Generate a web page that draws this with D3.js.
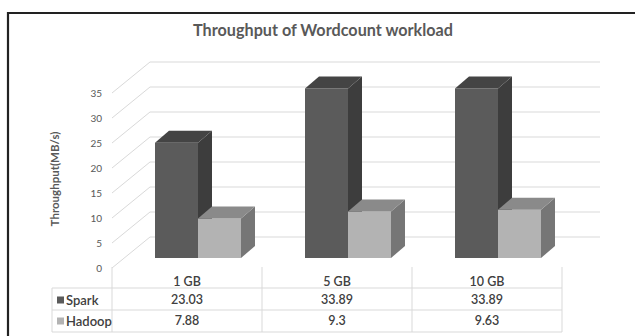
<!DOCTYPE html>
<html><head><meta charset="utf-8">
<script src="https://cdn.jsdelivr.net/npm/d3@7"></script>
<style>body{margin:0;background:#fff}svg{display:block}text{font-family:Lato,"Open Sans",sans-serif}</style>
</head><body><div id="chart"></div>
<script>
const categories = ["1 GB", "5 GB", "10 GB"];
const seriesNames = ["Spark", "Hadoop"];
const spark = [23.03, 33.89, 33.89];
const hadoop = [7.88, 9.3, 9.63];
const yTicks = [0, 5, 10, 15, 20, 25, 30, 35];
const sparkLabels = ["23.03", "33.89", "33.89"];
const hadoopLabels = ["7.88", "9.3", "9.63"];

const W = 635, H = 336;
const svg = d3.select("#chart").append("svg").attr("width", W).attr("height", H);
svg.append("rect").attr("width", W).attr("height", H).attr("fill", "#fff");

// frame
svg.append("path").attr("d", `M8,${H+5} L8,13 L${W+5},13`).attr("fill", "none")
  .attr("stroke", "#222").attr("stroke-width", 2.2);

// title
svg.append("text").attr("x", 323).attr("y", 36).attr("text-anchor", "middle")
  .attr("font-size", 16.2).attr("font-weight", "bold").attr("fill", "#595959")
  .text("Throughput of Wordcount workload");

// geometry
const frontX = 112, backX = 150, rightX = 600;
const yFront = d3.scaleLinear().domain([0, 35]).range([268, 93]);
const yBack = d3.scaleLinear().domain([0, 35]).range([237, 62]);
const yBar = d3.scaleLinear().domain([0, 35]).range([258, 83]);
const xCat = d3.scaleBand().domain(categories).range([112, 562]);
const xSub = d3.scaleBand().domain(seriesNames).range([0, 86]);
const barShift = 43, depthX = 14, depthY = -12;

// gridlines
const g = svg.append("g").attr("stroke", "#d9d9d9").attr("fill", "none").attr("stroke-width", 1);
yTicks.forEach(t => {
  g.append("path").attr("d", `M${frontX},${yFront(t)} L${backX},${yBack(t)} L${rightX},${yBack(t)}`);
});

// tick labels
svg.append("g").selectAll("text").data(yTicks).join("text")
  .attr("x", 102).attr("y", d => yFront(d)).attr("dy", "0.35em").attr("text-anchor", "end")
  .attr("font-size", 10).attr("fill", "#595959").text(d => d);

// axis title
svg.append("text").attr("transform", "translate(59,179) rotate(-90)").attr("text-anchor", "middle")
  .attr("font-size", 11.5).attr("font-weight", "bold").attr("fill", "#595959")
  .text("Throughput(MB/s)");

// bars
const colors = {
  Spark: {front: "#5b5b5b", side: "#3d3d3d", top: "#444444"},
  Hadoop: {front: "#b3b3b3", side: "#767676", top: "#8a8a8a"}
};
const data = [];
categories.forEach((c, i) => {
  data.push({c, s: "Spark", v: spark[i]});
  data.push({c, s: "Hadoop", v: hadoop[i]});
});
const bars = svg.append("g");
data.forEach(d => {
  const x0 = xCat(d.c) + barShift + xSub(d.s);
  const x1 = x0 + xSub.bandwidth();
  const yt = yBar(d.v), yb = yBar(0);
  const col = colors[d.s];
  bars.append("path").attr("d", `M${x0},${yb} L${x0},${yt} L${x1},${yt} L${x1},${yb} Z`).attr("fill", col.front);
  bars.append("path").attr("d", `M${x1},${yt} L${x1+depthX},${yt+depthY} L${x1+depthX},${yb+depthY} L${x1},${yb} Z`).attr("fill", col.side);
  bars.append("path").attr("d", `M${x0},${yt} L${x0+depthX},${yt+depthY} L${x1+depthX},${yt+depthY} L${x1},${yt} Z`).attr("fill", col.top);
});

// data table
const tg = svg.append("g").attr("stroke", "#d9d9d9").attr("stroke-width", 1).attr("fill", "none");
const rowY = [267, 288, 310, 332];
xCat.domain().forEach(c => tg.append("line").attr("x1", xCat(c)).attr("x2", xCat(c)).attr("y1", rowY[0]).attr("y2", rowY[3]));
tg.append("line").attr("x1", 562).attr("x2", 562).attr("y1", rowY[0]).attr("y2", rowY[3]);
tg.append("line").attr("x1", 52).attr("x2", 52).attr("y1", rowY[1]).attr("y2", rowY[3]);
[1, 2, 3].forEach(i => tg.append("line").attr("x1", 52).attr("x2", 562).attr("y1", rowY[i]).attr("y2", rowY[i]));

const txt = svg.append("g").attr("font-size", 12.5).attr("font-weight", 600).attr("fill", "#404040").attr("text-anchor", "middle");
categories.forEach((c, i) => {
  const cx = xCat(c) + xCat.bandwidth() / 2;
  txt.append("text").attr("x", cx).attr("y", 282).attr("dy", "0.35em").text(c);
  txt.append("text").attr("x", cx).attr("y", 300).attr("dy", "0.35em").text(sparkLabels[i]);
  txt.append("text").attr("x", cx).attr("y", 321).attr("dy", "0.35em").text(hadoopLabels[i]);
});
const legY = [300, 321];
seriesNames.forEach((s, i) => {
  svg.append("rect").attr("x", 57).attr("y", legY[i] - 3.5).attr("width", 7).attr("height", 7).attr("fill", colors[s].front);
  svg.append("text").attr("x", 66).attr("y", legY[i]).attr("dy", "0.35em").attr("font-size", 13)
    .attr("font-weight", 600).attr("fill", "#404040").text(s);
});
</script></body></html>
